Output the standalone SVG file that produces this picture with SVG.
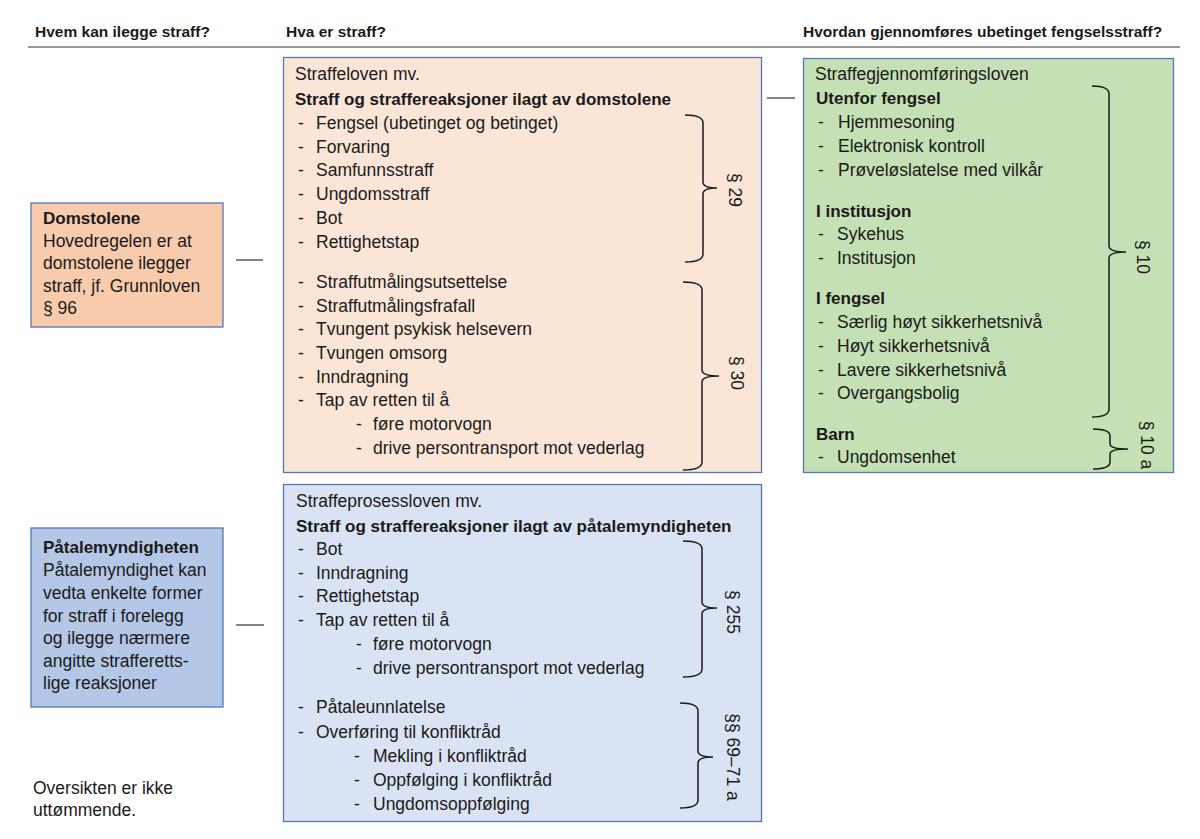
<svg xmlns="http://www.w3.org/2000/svg" width="1200" height="839" viewBox="0 0 1200 839">
<style>
text{font-family:"Liberation Sans",Arial,sans-serif;fill:#1a1a1a;font-size:17.5px}
.h{font-weight:bold;font-size:15.5px}
.b{font-weight:bold;font-size:17px}
.box{stroke:#5577B8;stroke-width:1.3}
.brace{fill:none;stroke:#1a1a1a;stroke-width:1.5}
.conn{stroke:#404040;stroke-width:1.3}
.lab{text-anchor:middle;dominant-baseline:central}
</style>
<rect width="1200" height="839" fill="#ffffff"/>
<g id="headers">
<text class="h" x="35" y="37">Hvem kan ilegge straff?</text>
<text class="h" x="286" y="37">Hva er straff?</text>
<text class="h" x="803" y="37">Hvordan gjennomføres ubetinget fengselsstraff?</text>
<line x1="28" y1="47" x2="1180" y2="47" stroke="#333" stroke-width="1.2"/>
</g>
<g id="connectors">
<line class="conn" x1="236" y1="260" x2="263" y2="260"/>
<line class="conn" x1="236" y1="625" x2="264" y2="625"/>
<line class="conn" x1="767" y1="98" x2="795" y2="98"/>
</g>
<g id="domstolene">
<rect class="box" x="31" y="203" width="192" height="124" fill="#F8CBAD"/>
<text class="b" x="43" y="224">Domstolene</text>
<text x="43" y="246.5">Hovedregelen er at</text>
<text x="43" y="269">domstolene ilegger</text>
<text x="43" y="291.5">straff, jf. Grunnloven</text>
<text x="43" y="314">§ 96</text>
</g>
<g id="patalemyndigheten">
<rect class="box" x="31" y="528" width="192" height="179" fill="#B4C7E7"/>
<text class="b" x="43" y="553">Påtalemyndigheten</text>
<text x="43" y="576">Påtalemyndighet kan</text>
<text x="43" y="599">vedta enkelte former</text>
<text x="43" y="622">for straff i forelegg</text>
<text x="43" y="644">og ilegge nærmere</text>
<text x="43" y="667">angitte strafferetts-</text>
<text x="43" y="689">lige reaksjoner</text>
</g>
<g id="straffeloven">
<rect class="box" x="283.5" y="57.5" width="478" height="415" fill="#FBE5D6"/>
<text x="295" y="80">Straffeloven mv.</text>
<text class="b" x="295" y="105">Straff og straffereaksjoner ilagt av domstolene</text>
<text x="298" y="129">-</text><text x="316" y="129">Fengsel (ubetinget og betinget)</text>
<text x="298" y="153">-</text><text x="316" y="153">Forvaring</text>
<text x="298" y="176">-</text><text x="316" y="176">Samfunnsstraff</text>
<text x="298" y="200">-</text><text x="316" y="200">Ungdomsstraff</text>
<text x="298" y="224">-</text><text x="316" y="224">Bot</text>
<text x="298" y="248">-</text><text x="316" y="248">Rettighetstap</text>
<text x="298" y="288">-</text><text x="316" y="288">Straffutmålingsutsettelse</text>
<text x="298" y="312">-</text><text x="316" y="312">Straffutmålingsfrafall</text>
<text x="298" y="335">-</text><text x="316" y="335">Tvungent psykisk helsevern</text>
<text x="298" y="359">-</text><text x="316" y="359">Tvungen omsorg</text>
<text x="298" y="383">-</text><text x="316" y="383">Inndragning</text>
<text x="298" y="406">-</text><text x="316" y="406">Tap av retten til å</text>
<text x="356" y="430">-</text><text x="373" y="430">føre motorvogn</text>
<text x="356" y="454">-</text><text x="373" y="454">drive persontransport mot vederlag</text>
<path class="brace" d="M685,115 Q703,115 703,123 L703,182 Q703,188 717,188 Q703,188 703,194 L703,254 Q703,262 685,262"/>
<text class="lab" transform="translate(735,190) rotate(90)">§ 29</text>
<path class="brace" d="M683,282 Q702,282 702,290 L702,370 Q702,376 719,376 Q702,376 702,382 L702,462 Q702,470 683,470"/>
<text class="lab" transform="translate(737,373) rotate(90)">§ 30</text>
</g>
<g id="straffeprosessloven">
<rect class="box" x="283.5" y="484.5" width="478" height="337" fill="#DAE3F3"/>
<text x="296" y="507">Straffeprosessloven mv.</text>
<text class="b" x="296" y="532">Straff og straffereaksjoner ilagt av påtalemyndigheten</text>
<text x="298" y="555">-</text><text x="316" y="555">Bot</text>
<text x="298" y="579">-</text><text x="316" y="579">Inndragning</text>
<text x="298" y="602">-</text><text x="316" y="602">Rettighetstap</text>
<text x="298" y="626">-</text><text x="316" y="626">Tap av retten til å</text>
<text x="356" y="650">-</text><text x="373" y="650">føre motorvogn</text>
<text x="356" y="674">-</text><text x="373" y="674">drive persontransport mot vederlag</text>
<text x="298" y="713">-</text><text x="316" y="713">Påtaleunnlatelse</text>
<text x="298" y="738">-</text><text x="316" y="738">Overføring til konfliktråd</text>
<text x="354" y="762">-</text><text x="373" y="762">Mekling i konfliktråd</text>
<text x="354" y="786">-</text><text x="373" y="786">Oppfølging i konfliktråd</text>
<text x="354" y="810">-</text><text x="373" y="810">Ungdomsoppfølging</text>
<path class="brace" d="M683,541 Q702,541 702,549 L702,602 Q702,608 717,608 Q702,608 702,614 L702,669 Q702,677 683,677"/>
<text class="lab" transform="translate(733,612) rotate(90)">§ 255</text>
<path class="brace" d="M680,703 Q698,703 698,711 L698,751 Q698,757 713,757 Q698,757 698,763 L698,800 Q698,808 680,808"/>
<text class="lab" transform="translate(733,757) rotate(90)">§§ 69–71 a</text>
</g>
<g id="straffegjennomforingsloven">
<rect class="box" x="803.5" y="58.5" width="370" height="414" fill="#C5E0B4"/>
<text x="815" y="80">Straffegjennomføringsloven</text>
<text class="b" x="816" y="104">Utenfor fengsel</text>
<text x="818" y="128">-</text><text x="838" y="128">Hjemmesoning</text>
<text x="818" y="152">-</text><text x="838" y="152">Elektronisk kontroll</text>
<text x="818" y="176">-</text><text x="838" y="176">Prøveløslatelse med vilkår</text>
<text class="b" x="816" y="217">I institusjon</text>
<text x="818" y="240">-</text><text x="837" y="240">Sykehus</text>
<text x="818" y="264">-</text><text x="837" y="264">Institusjon</text>
<text class="b" x="816" y="304">I fengsel</text>
<text x="818" y="328">-</text><text x="837" y="328">Særlig høyt sikkerhetsnivå</text>
<text x="818" y="352">-</text><text x="837" y="352">Høyt sikkerhetsnivå</text>
<text x="818" y="376">-</text><text x="837" y="376">Lavere sikkerhetsnivå</text>
<text x="818" y="399">-</text><text x="837" y="399">Overgangsbolig</text>
<text class="b" x="816" y="440">Barn</text>
<text x="818" y="463">-</text><text x="837" y="463">Ungdomsenhet</text>
<path class="brace" d="M1092,86 Q1109,86 1109,94 L1109,246 Q1109,252 1126,252 Q1109,252 1109,258 L1109,409 Q1109,417 1092,417"/>
<text class="lab" transform="translate(1143,257) rotate(90)">§ 10</text>
<path class="brace" d="M1093,429 Q1110,429 1110,436 L1110,444 Q1110,449 1128,449 Q1110,449 1110,454 L1110,462 Q1110,469 1093,469"/>
<text class="lab" transform="translate(1147,445) rotate(90)">§ 10 a</text>
</g>
<g id="note">
<text x="33" y="794">Oversikten er ikke</text>
<text x="33" y="816">uttømmende.</text>
</g>
</svg>
